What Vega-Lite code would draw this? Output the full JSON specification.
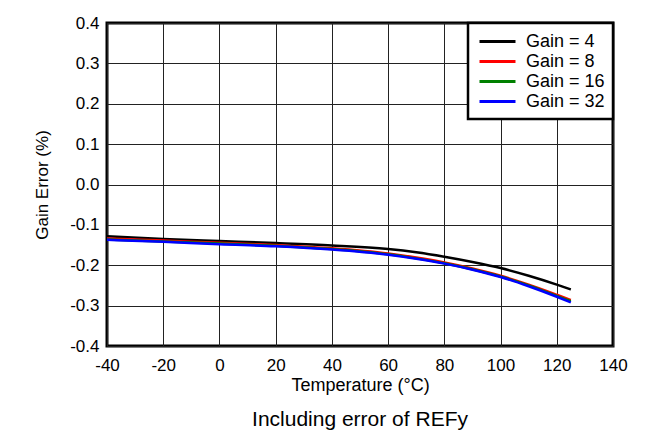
{
  "$schema": "https://vega.github.io/schema/vega-lite/v6.json",
  "autosize": {"type": "none"},
  "width": 506,
  "height": 323,
  "padding": {"left": 107, "top": 23, "right": 51, "bottom": 98},
  "background": "white",
  "config": {
    "font": "Liberation Sans",
    "view": {"stroke": "black", "strokeWidth": 3},
    "axis": {"labelFont": "Liberation Sans", "titleFont": "Liberation Sans", "labelColor": "black", "titleColor": "black", "titleFontWeight": "normal", "gridColor": "#222", "gridWidth": 1, "gridOpacity": 1, "domain": false, "ticks": false, "labelExpr": "replace(datum.label, '−', '-')"}
  },
  "title": {"text": "Including error of REFy", "orient": "bottom", "anchor": "middle", "fontSize": 21, "fontWeight": "normal", "font": "Liberation Sans", "color": "black", "offset": 15},
  "data": {"values": [
    {"t": -40, "e": -0.128, "s": "Gain = 4"},
    {"t": -20, "e": -0.135, "s": "Gain = 4"},
    {"t": 0, "e": -0.140, "s": "Gain = 4"},
    {"t": 20, "e": -0.145, "s": "Gain = 4"},
    {"t": 40, "e": -0.151, "s": "Gain = 4"},
    {"t": 60, "e": -0.160, "s": "Gain = 4"},
    {"t": 70, "e": -0.168, "s": "Gain = 4"},
    {"t": 80, "e": -0.179, "s": "Gain = 4"},
    {"t": 90, "e": -0.192, "s": "Gain = 4"},
    {"t": 100, "e": -0.207, "s": "Gain = 4"},
    {"t": 110, "e": -0.226, "s": "Gain = 4"},
    {"t": 120, "e": -0.248, "s": "Gain = 4"},
    {"t": 125, "e": -0.260, "s": "Gain = 4"},
    {"t": -40, "e": -0.134, "s": "Gain = 8"},
    {"t": -20, "e": -0.139, "s": "Gain = 8"},
    {"t": 0, "e": -0.144, "s": "Gain = 8"},
    {"t": 20, "e": -0.150, "s": "Gain = 8"},
    {"t": 40, "e": -0.158, "s": "Gain = 8"},
    {"t": 60, "e": -0.171, "s": "Gain = 8"},
    {"t": 70, "e": -0.181, "s": "Gain = 8"},
    {"t": 80, "e": -0.193, "s": "Gain = 8"},
    {"t": 90, "e": -0.208, "s": "Gain = 8"},
    {"t": 100, "e": -0.226, "s": "Gain = 8"},
    {"t": 110, "e": -0.248, "s": "Gain = 8"},
    {"t": 120, "e": -0.273, "s": "Gain = 8"},
    {"t": 125, "e": -0.286, "s": "Gain = 8"},
    {"t": -40, "e": -0.136, "s": "Gain = 16"},
    {"t": -20, "e": -0.141, "s": "Gain = 16"},
    {"t": 0, "e": -0.146, "s": "Gain = 16"},
    {"t": 20, "e": -0.152, "s": "Gain = 16"},
    {"t": 40, "e": -0.160, "s": "Gain = 16"},
    {"t": 60, "e": -0.173, "s": "Gain = 16"},
    {"t": 70, "e": -0.183, "s": "Gain = 16"},
    {"t": 80, "e": -0.195, "s": "Gain = 16"},
    {"t": 90, "e": -0.210, "s": "Gain = 16"},
    {"t": 100, "e": -0.228, "s": "Gain = 16"},
    {"t": 110, "e": -0.250, "s": "Gain = 16"},
    {"t": 120, "e": -0.276, "s": "Gain = 16"},
    {"t": 125, "e": -0.289, "s": "Gain = 16"},
    {"t": -40, "e": -0.137, "s": "Gain = 32"},
    {"t": -20, "e": -0.142, "s": "Gain = 32"},
    {"t": 0, "e": -0.148, "s": "Gain = 32"},
    {"t": 20, "e": -0.153, "s": "Gain = 32"},
    {"t": 40, "e": -0.161, "s": "Gain = 32"},
    {"t": 60, "e": -0.174, "s": "Gain = 32"},
    {"t": 70, "e": -0.184, "s": "Gain = 32"},
    {"t": 80, "e": -0.196, "s": "Gain = 32"},
    {"t": 90, "e": -0.211, "s": "Gain = 32"},
    {"t": 100, "e": -0.229, "s": "Gain = 32"},
    {"t": 110, "e": -0.252, "s": "Gain = 32"},
    {"t": 120, "e": -0.278, "s": "Gain = 32"},
    {"t": 125, "e": -0.292, "s": "Gain = 32"}
  ]},
  "mark": {"type": "line", "strokeWidth": 2.5, "interpolate": "monotone"},
  "encoding": {
    "x": {"field": "t", "type": "quantitative", "scale": {"domain": [-40, 140], "nice": false, "zero": false},
      "axis": {"values": [-40, -20, 0, 20, 40, 60, 80, 100, 120, 140], "title": "Temperature (°C)", "labelFontSize": 17, "titleFontSize": 18, "labelPadding": 11, "titlePadding": 3, "labelFlush": false}},
    "y": {"field": "e", "type": "quantitative", "scale": {"domain": [-0.4, 0.4], "nice": false, "zero": false},
      "axis": {"values": [-0.4, -0.3, -0.2, -0.1, 0, 0.1, 0.2, 0.3, 0.4], "format": ".1f", "title": "Gain Error (%)", "labelFontSize": 17, "titleFontSize": 17, "labelPadding": 8, "titlePadding": 18, "labelFlush": false}},
    "color": {"field": "s", "type": "nominal", "sort": null,
      "scale": {"domain": ["Gain = 4", "Gain = 8", "Gain = 16", "Gain = 32"], "range": ["#000000", "#ff0000", "#008000", "#0000ff"]},
      "legend": {"title": null, "orient": "top-right", "offset": 0, "fillColor": "white", "strokeColor": "black", "padding": 8, "symbolType": "M -0.778 0 L 3.222 0", "symbolSize": 324, "symbolStrokeWidth": 3, "labelFontSize": 18, "labelColor": "black", "labelOffset": 29, "rowPadding": 0, "labelFont": "Liberation Sans",
        "encode": {"legend": {"update": {"strokeWidth": {"value": 2.5}}}}}}
  }
}
